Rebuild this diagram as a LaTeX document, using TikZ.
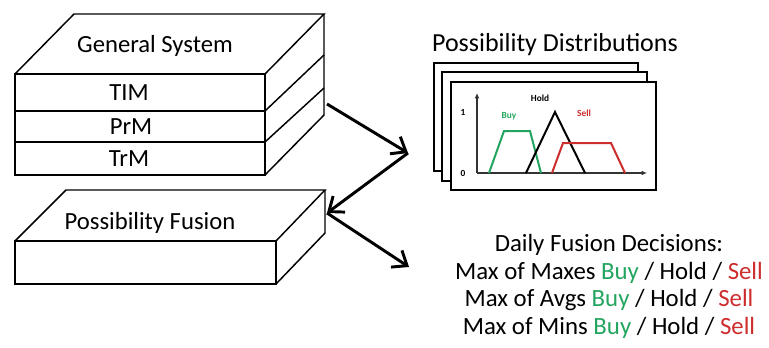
\documentclass[tikz,border=0pt]{standalone}
\usepackage{fontspec}
\setmainfont{Carlito}
\usetikzlibrary{arrows.meta}
\definecolor{buygreen}{RGB}{35,165,95}
\definecolor{sellred}{RGB}{205,45,45}
\tikzset{every picture/.style={line width=0.75pt}}
\tikzset{
  boxline/.style={line width=1.1pt, line join=miter},
  flowarrow/.style={line width=2.2pt, -{Straight Barb[length=9.5pt,width=15pt,line width=2.2pt]}},
  lbl/.style={inner sep=0.75pt, font=\fontsize{18.5}{21}\selectfont},
  plotlbl/.style={inner sep=0.5pt, font=\fontsize{7}{8}\selectfont\bfseries},
  curve/.style={line width=1.5pt, line join=miter},
}

\begin{document}
\begin{tikzpicture}[x=0.75pt,y=0.75pt,yscale=-1,xscale=1]
	\useasboundingbox (0,0) rectangle (769,347);
	
	%Shape: Cube [General System]
	\draw [boxline]  (15,74) -- (265,74) -- (265,175) -- (15,175) -- cycle ;
	\draw [boxline]  (15,74) -- (74,14) -- (324,14) -- (265,74) ;
	\draw [boxline]  (324,14) -- (324,115) -- (265,175) ;
	%Straight Lines [layer edges]
	\draw [boxline, line width=1.6pt]  (15,111) -- (265,111) ;
	\draw [boxline]  (265,111) -- (324,55) ;
	\draw [boxline, line width=1.6pt]  (15,142) -- (265,142) ;
	\draw [boxline]  (265,142) -- (324,88) ;
	
	%Shape: Cube [Possibility Fusion]
	\draw [boxline]  (15,241) -- (276,241) -- (276,284) -- (15,284) -- cycle ;
	\draw [boxline]  (15,241) -- (66,190) -- (325,190) -- (276,241) ;
	\draw [boxline]  (325,190) -- (325,233) -- (276,284) ;
	
	%Shape: Rectangle [stacked plots]
	\draw [line width=1pt, fill=white]  (434,63) rectangle (638,171) ;
	\draw [line width=1pt, fill=white]  (442,72) rectangle (647,181) ;
	\draw [line width=1pt, fill=white]  (451,82) rectangle (656,190) ;
	%Straight Lines [axes]
	\draw [line width=1pt, black!80, -{Latex[length=4pt,width=3.5pt]}]  (477,173) -- (477,93) ;
	\draw [line width=1pt, black!80, -{Latex[length=4pt,width=3.5pt]}]  (477,173) -- (647,173) ;
	%Straight Lines [membership curves]
	\draw [curve, buygreen]  (489,173) -- (504,131) -- (530,131) -- (541,173) ;
	\draw [curve, black]  (526,173) -- (555,112) -- (585,173) ;
	\draw [curve, sellred]  (552,173) -- (563,143) -- (611,143) -- (625,173) ;
	
	% Text Node
	\node (gensys) at (155,46) [lbl] {General System};
	% Text Node
	\node (tim) at (129,93) [lbl] {TIM};
	% Text Node
	\node (prm) at (131,127) [lbl] {PrM};
	% Text Node
	\node (trm) at (129,159) [lbl] {TrM};
	% Text Node
	\node (fusion) at (150,223) [lbl] {Possibility Fusion};
	% Text Node
	\node (distitle) at (555,45) [lbl, font=\fontsize{19.5}{22}\selectfont] {Possibility Distributions};
	% Text Node
	\node (one) at (463,112) [plotlbl] {1};
	% Text Node
	\node (zero) at (463,173) [plotlbl] {0};
	% Text Node
	\node (holdlbl) at (540,98) [plotlbl] {Hold};
	% Text Node
	\node (buylbl) at (509,116) [plotlbl, buygreen] {Buy};
	% Text Node
	\node (selllbl) at (584,113) [plotlbl, sellred] {Sell};
	% Text Node
	\node (decisions) at (609,286.5) [lbl, align=center, font=\fontsize{18.6}{20.8}\selectfont] {Daily Fusion Decisions:\\
		Max of Maxes \textcolor{buygreen}{Buy} / Hold / \textcolor{sellred}{Sell}\\
		Max of Avgs \textcolor{buygreen}{Buy} / Hold / \textcolor{sellred}{Sell}\\
		Max of Mins \textcolor{buygreen}{Buy} / Hold / \textcolor{sellred}{Sell}};
	
	%Straight Lines [flow]
	\coordinate (gsport) at (327,104);
	\coordinate (distport) at (408,153);
	\coordinate (fusport) at (327,213);
	\coordinate (decport) at (409,267);
	\draw [flowarrow]  (gsport) -- (distport) ;
	\draw [flowarrow]  (distport) -- (fusport) ;
	\draw [flowarrow]  (fusport) -- (decport) ;
	
\end{tikzpicture}
\end{document}
